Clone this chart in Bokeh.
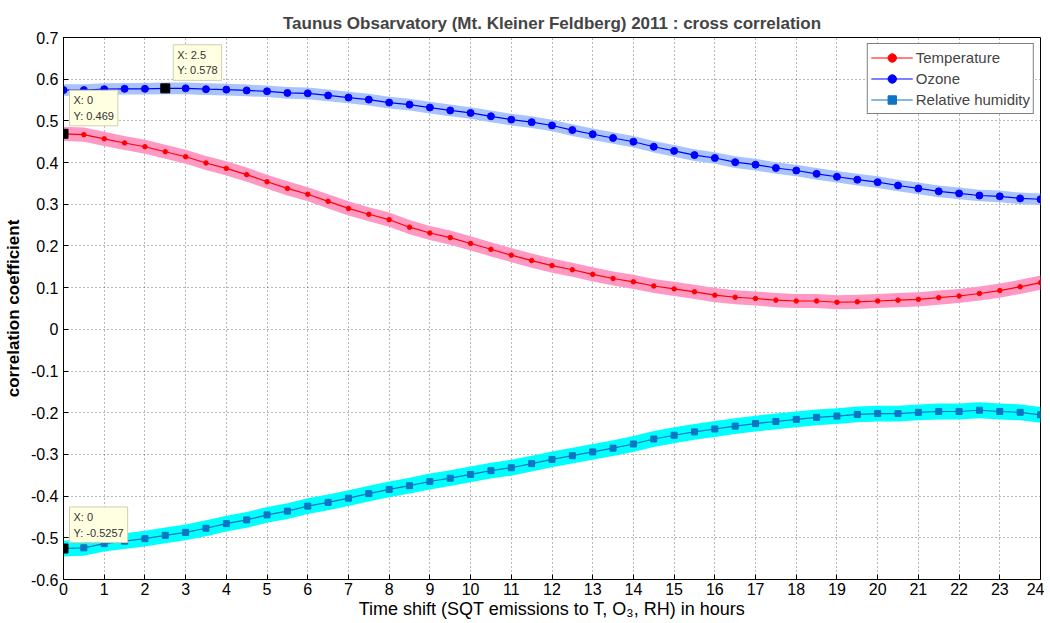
from bokeh.plotting import figure
from bokeh.models import (Range1d, FixedTicker, Legend, LegendItem,
                          Label, ColumnDataSource)
from bokeh.embed import file_html
from bokeh.resources import INLINE

# ---------------- data ----------------
hours = [i * 0.5 for i in range(49)]

temperature = [0.469, 0.467, 0.457, 0.447, 0.438, 0.426, 0.414, 0.399, 0.386, 0.371,
               0.354, 0.338, 0.324, 0.307, 0.290, 0.276, 0.263, 0.245, 0.231, 0.220,
               0.206, 0.192, 0.178, 0.165, 0.153, 0.143, 0.132, 0.122, 0.114, 0.104,
               0.097, 0.090, 0.082, 0.077, 0.074, 0.070, 0.068, 0.068, 0.065, 0.066,
               0.068, 0.070, 0.072, 0.076, 0.080, 0.086, 0.093, 0.102, 0.112]

ozone = [0.574, 0.574, 0.576, 0.577, 0.577, 0.578, 0.578, 0.576, 0.575, 0.573,
         0.571, 0.567, 0.566, 0.561, 0.556, 0.551, 0.544, 0.539, 0.532, 0.525,
         0.519, 0.511, 0.503, 0.497, 0.489, 0.478, 0.468, 0.459, 0.450, 0.438,
         0.428, 0.418, 0.411, 0.401, 0.395, 0.387, 0.381, 0.373, 0.366, 0.359,
         0.353, 0.345, 0.338, 0.331, 0.326, 0.321, 0.319, 0.314, 0.312]

humidity = [-0.5257, -0.524, -0.514, -0.508, -0.502, -0.494, -0.487, -0.477, -0.466, -0.457,
            -0.445, -0.436, -0.424, -0.415, -0.405, -0.394, -0.384, -0.375, -0.365, -0.357,
            -0.348, -0.339, -0.332, -0.322, -0.312, -0.303, -0.294, -0.285, -0.275, -0.263,
            -0.254, -0.246, -0.239, -0.232, -0.226, -0.221, -0.216, -0.211, -0.208, -0.204,
            -0.202, -0.202, -0.199, -0.197, -0.197, -0.194, -0.197, -0.199, -0.205]

band_halfwidth = {"Temperature": 0.017, "Ozone": 0.014, "Relative humidity": 0.019}

x_ticks = list(range(0, 25))
y_ticks = [-0.6, -0.5, -0.4, -0.3, -0.2, -0.1, 0.0, 0.1, 0.2, 0.3, 0.4, 0.5, 0.6, 0.7]
y_tick_labels = ["-0.6", "-0.5", "-0.4", "-0.3", "-0.2", "-0.1", "0",
                 "0.1", "0.2", "0.3", "0.4", "0.5", "0.6", "0.7"]

# data tips: (x, y, label text)
tips_x = [0, 2.5, 0]
tips_y = [0.469, 0.578, -0.5257]
tips_text = ["X: 0\nY: 0.469", "X: 2.5\nY: 0.578", "X: 0\nY: -0.5257"]

title_text = "Taunus Obsarvatory (Mt. Kleiner Feldberg) 2011 : cross correlation"
x_label = "Time shift (SQT emissions to T, O\u2083, RH) in hours"
y_label = "correlation coefficient"

FONT = "Liberation Sans"

# ---------------- figure ----------------
p = figure(width=1042, height=621, frame_width=977, frame_height=542,
           output_backend="svg", toolbar_location=None,
           x_range=Range1d(0, 24), y_range=Range1d(-0.6, 0.7),
           min_border_left=61, min_border_right=4, min_border_top=37,
           min_border_bottom=42)
p.title.text = title_text
p.title.align = "center"
p.title.text_font = FONT
p.title.text_font_size = "17px"
p.title.text_font_style = "bold"
p.title.offset = 0
p.title.standoff = 10

p.background_fill_color = "white"
p.border_fill_color = "white"
p.outline_line_color = "black"
p.outline_line_width = 1

for ax in (p.xaxis[0], p.yaxis[0]):
    ax.axis_line_color = "black"
    ax.major_tick_in = 5
    ax.major_tick_out = 0
    ax.minor_tick_line_color = None
    ax.major_label_text_font = FONT
    ax.major_label_text_font_size = "16px"
    ax.major_label_text_color = "black"
    ax.axis_label_text_font = FONT
    ax.axis_label_text_color = "black"

p.xaxis.ticker = FixedTicker(ticks=x_ticks)
p.yaxis.ticker = FixedTicker(ticks=y_ticks)
p.yaxis.major_label_overrides = {t: l for t, l in zip(y_ticks, y_tick_labels)}
p.xaxis.axis_label = x_label
p.xaxis.axis_label_text_font_size = "18px"
p.xaxis.axis_label_text_font_style = "normal"
p.xaxis.axis_label_standoff = 1
p.xaxis.major_label_standoff = 3
p.yaxis.axis_label = y_label
p.yaxis.axis_label_text_font_size = "17px"
p.yaxis.axis_label_text_font_style = "bold"
p.yaxis.axis_label_standoff = 5
p.yaxis.major_label_standoff = 5

p.xgrid.ticker = FixedTicker(ticks=x_ticks)
p.ygrid.ticker = FixedTicker(ticks=y_ticks)
for g in (p.xgrid[0], p.ygrid[0]):
    g.grid_line_color = "black"
    g.grid_line_alpha = 0.55
    g.grid_line_dash = "1 3"
    g.grid_line_width = 1

series = [
    ("Temperature", temperature, "#FF0000", "#FF99C4", "circle", 4.5),
    ("Ozone", ozone, "#0000FF", "#A9C3FF", "circle", 7),
    ("Relative humidity", humidity, "#0E74C4", "#00FFFF", "square", 6),
]

items = []
for name, vals, lc, bc, mk, ms in series:
    d = band_halfwidth[name]
    src = ColumnDataSource(dict(x=hours, y=vals,
                                lo=[v - d for v in vals], hi=[v + d for v in vals]))
    p.varea(x="x", y1="lo", y2="hi", source=src, fill_color=bc, fill_alpha=1.0)
    r1 = p.line(x="x", y="y", source=src, line_color=lc, line_width=1.2)
    r2 = p.scatter(x="x", y="y", source=src, marker=mk, size=ms,
                   fill_color=lc, line_color=lc)
    items.append(LegendItem(label=name, renderers=[r1, r2]))

# legend
legend = Legend(items=items, location="top_right", label_text_font=FONT,
                label_text_font_size="15px", border_line_color="black",
                border_line_width=1, background_fill_color="white",
                background_fill_alpha=1, margin=6, padding=3, spacing=0,
                glyph_width=42, label_standoff=3, label_height=21, glyph_height=21)
p.add_layout(legend, "center")

# data tips
p.scatter(x=tips_x, y=tips_y, marker="square", size=9, fill_color="black",
          line_color="black")
offsets = [(6, 8), (8, 8), (6, 6)]
for tx, ty, tt, (ox, oy) in zip(tips_x, tips_y, tips_text, offsets):
    lab = Label(x=tx, y=ty, text=tt, x_offset=ox, y_offset=oy,
                text_font=FONT, text_font_size="11px", text_color="#333333",
                text_align="left", text_baseline="bottom", text_line_height=1.3,
                background_fill_color="#FFFFE1", background_fill_alpha=1,
                border_line_color="#CFCFB0", border_line_width=1, padding=4)
    p.add_layout(lab)

open("out.html", "w").write(file_html(p, INLINE))
